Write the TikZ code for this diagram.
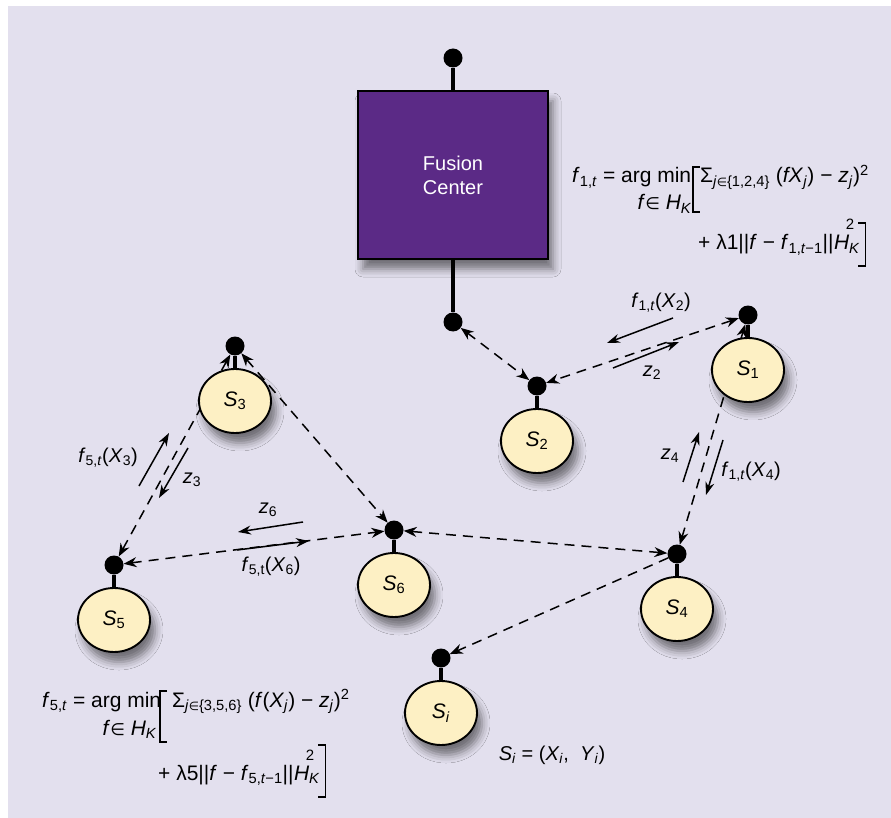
\documentclass[tikz,border=0pt]{standalone}
\usepackage{fontspec}
\setmainfont{Liberation Sans}
\newfontfamily\symfont{DejaVu Sans}[Scale=0.8]
\usetikzlibrary{shapes.geometric,arrows.meta,backgrounds,shadows.blur}

\definecolor{bgpanel}{HTML}{E3E0EE}
\definecolor{fcpurple}{HTML}{5B2A86}
\definecolor{sensorfill}{HTML}{FDF0C4}

\newcommand{\lo}[1]{\textsubscript{#1}}
\newcommand{\hi}[1]{\textsuperscript{#1}}
\newcommand{\vin}{{\symfont ∈}}
\newcommand{\fvx}[2]{\textit{f}\lo{#1,\textit{t}}(\textit{X}\lo{#2})}
\def\portDrop{55}
\tikzset{
  softshadow/.style={blur shadow={shadow xshift=5pt,shadow yshift=-10pt,shadow blur radius=8pt,shadow opacity=50}},
  fcbox/.style={draw,line width=2.2pt,fill=fcpurple,text=white,align=center,
    minimum width=190pt,minimum height=168pt,font=\fontsize{20}{24}\selectfont,softshadow},
  sensor/.style={draw,ellipse,line width=1.9pt,fill=sensorfill,minimum width=72pt,
    minimum height=64pt,inner sep=0pt,font=\fontsize{21}{25}\selectfont,softshadow},
  port/.style={circle,fill=black,minimum size=19pt,inner sep=0pt},
  stem/.style={line width=3.2pt},
  link/.style={line width=1.5pt,dash pattern=on 10pt off 7pt,>={Stealth[length=13pt,width=10pt]}},
  msg/.style={line width=1.5pt,->,>={Stealth[length=13pt,width=9pt]}},
  lab/.style={font=\fontsize{20}{24}\selectfont,inner sep=0pt},
  eq/.style={font=\fontsize{21}{25}\selectfont,inner sep=0pt,anchor=base west},
  eqsup/.style={font=\fontsize{15}{18}\selectfont,inner sep=0pt,anchor=base},
  brk/.style={line width=1.5pt}
}

\begin{document}
\begin{tikzpicture}[x=1pt,y=-1pt]
  \useasboundingbox (0,0) rectangle (891,818);

  % fusion center
  \node[fcbox] (fc) at (453,175) {Fusion\\Center};
  \node[port] (fct) at (453,58) {};
  \node[port] (fcb) at (453,322) {};
  \draw[stem] (fct) -- (fc);
  \draw[stem] (fc) -- (fcb);

  % sensors
  \foreach \n/\x/\y/\lab in {1/748/370/1,2/537/441/2,3/235/401/3,4/677/609/4,
                             5/114/620/5,6/394/585/6,i/441/713/\textit{i}} {
    \node[sensor] (s\n) at (\x,\y) {\textit{S}\lo{\lab}};
    \node[port] (p\n) at (\x,\y-\portDrop) {};
    \draw[stem] (p\n) -- (s\n);
  }

  \begin{scope}[on background layer]
    \fill[bgpanel] (8,6) rectangle (891,818);
    \draw[link,<->] (fcb) -- (p2);
    \draw[link,<->] (p1) -- (p2);
    \draw[link,<->] (p1) -- (p4);
    \draw[link,<->] (p3) -- (p5);
    \draw[link,<->] (p3) -- (p6);
    \draw[link,<->] (p5) -- (p6);
    \draw[link,<->] (p4) -- (p6);
    \draw[link,->] (p4) -- (pi);
  \end{scope}

  % messages
  \coordinate (m12a) at (673,318); \coordinate (m12b) at (607,343);
  \coordinate (z2a) at (613,368);  \coordinate (z2b) at (679,342);
  \coordinate (m14a) at (723,440); \coordinate (m14b) at (706,495);
  \coordinate (z4a) at (683,482);  \coordinate (z4b) at (699,432);
  \coordinate (m53a) at (139,486); \coordinate (m53b) at (169,433);
  \coordinate (z3a) at (188,448);  \coordinate (z3b) at (159,498);
  \coordinate (z6a) at (303,522);  \coordinate (z6b) at (238,532);
  \coordinate (m56a) at (237,550); \coordinate (m56b) at (309,541);
  \draw[msg] (m12a) -- (m12b);
  \draw[msg] (z2a) -- (z2b);
  \draw[msg] (m14a) -- (m14b);
  \draw[msg] (z4a) -- (z4b);
  \draw[msg] (m53a) -- (m53b);
  \draw[msg] (z3a) -- (z3b);
  \draw[msg] (z6a) -- (z6b);
  \draw[msg] (m56a) -- (m56b);

  \node[lab] (l12) at (661,303) {\fvx{1}{2}};
  \node[lab] (lz2) at (652,373) {\textit{z}\lo{2}};
  \node[lab] (l14) at (751,472) {\fvx{1}{4}};
  \node[lab] (lz4) at (670,456) {\textit{z}\lo{4}};
  \node[lab] (l53) at (108,458) {\fvx{5}{3}};
  \node[lab] (lz3) at (192,480) {\textit{z}\lo{3}};
  \node[lab] (lz6) at (268,510) {\textit{z}\lo{6}};
  \node[lab] (l56) at (271,567) {\textit{f}\lo{5,t}(\textit{X}\lo{6})};
  \node[lab] (lsi) at (552,755) {\textit{S}\lo{\textit{i}} = (\textit{X}\lo{\textit{i}}, \ \textit{Y}\lo{\textit{i}})};

  % update rule of S1
  \node[eq] (fa1) at (572,183) {\textit{f}\lo{1,\textit{t}} = arg min};
  \node[eq,anchor=base east] (fa2) at (692,210) {\textit{f}\vin\ \textit{H}\lo{\textit{K}}};
  \draw[brk] (700,167) -- (693,167) -- (693,212) -- (700,212);
  \node[eq] (fa3) at (700,183) {Σ\lo{\textit{j}\vin\{1,2,4\}} (\textit{fX}\lo{\textit{j}}) − \textit{z}\lo{\textit{j}})\hi{2}};
  \node[eq] (fa4) at (698,250) {+ λ1||\textit{f} − \textit{f}\lo{1,\textit{t}−1}||};
  \node[eq] (fa5) at (fa4.base east) {\textit{H}\lo{\textit{K}}};
  \node[eqsup] (fa6) at ([xshift=3pt,yshift=20pt]fa5.base) {2};
  \draw[brk] ([xshift=-2pt,yshift=27pt]fa5.base east) -| ([xshift=5pt,yshift=-16pt]fa5.base east) -- ++(-7,0);

  % update rule of S5
  \node[eq] (fb1) at (42,707) {\textit{f}\lo{5,\textit{t}} = arg min};
  \node[eq,anchor=base east] (fb2) at (157,735) {\textit{f}\vin\ \textit{H}\lo{\textit{K}}};
  \draw[brk] (167,691) -- (160,691) -- (160,742) -- (167,742);
  \node[eq] (fb3) at (172,707) {Σ\lo{\textit{j}\vin\{3,5,6\}} (\textit{f}(\textit{X}\lo{\textit{j}}) − \textit{z}\lo{\textit{j}})\hi{2}};
  \node[eq] (fb4) at (158,780) {+ λ5||\textit{f} − \textit{f}\lo{5,\textit{t}−1}||};
  \node[eq] (fb5) at (fb4.base east) {\textit{H}\lo{\textit{K}}};
  \node[eqsup] (fb6) at ([xshift=3pt,yshift=20pt]fb5.base) {2};
  \draw[brk] ([xshift=-2pt,yshift=35pt]fb5.base east) -| ([xshift=5pt,yshift=-17pt]fb5.base east) -- ++(-7,0);
\end{tikzpicture}
\end{document}
